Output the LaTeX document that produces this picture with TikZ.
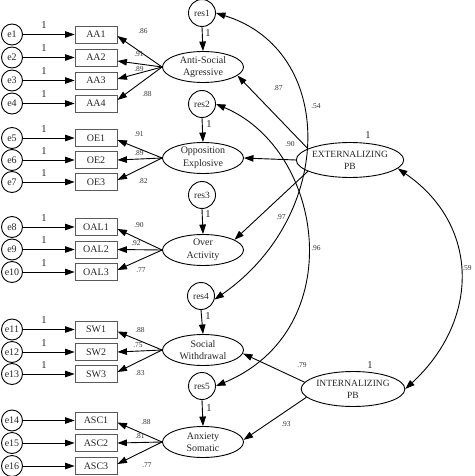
\documentclass[tikz,border=0pt]{standalone}
\usepackage{fontspec}
\setmainfont{Liberation Serif}
\usetikzlibrary{arrows.meta,shapes.geometric}
\begin{document}
\begin{tikzpicture}[x=1pt,y=-1pt,
  err/.style={circle,draw,line width=0.9pt,minimum size=21pt,inner sep=0pt,font=\fontsize{10}{11}\selectfont,text=black!85},
  resid/.style={circle,draw,line width=0.9pt,minimum size=27pt,inner sep=0pt,font=\fontsize{9.5}{11}\selectfont,text=black!85},
  obs/.style={rectangle,draw=black!65,line width=0.8pt,minimum width=42pt,minimum height=17pt,inner sep=0pt,font=\fontsize{10}{11}\selectfont,text=black!85},
  lat/.style={ellipse,draw,line width=0.9pt,minimum width=81pt,minimum height=31pt,inner sep=0pt,align=center,font=\fontsize{10}{12.5}\selectfont,text=black!85},
  biglat/.style={lat,minimum width=87pt,minimum height=35pt,font=\fontsize{9.5}{12}\selectfont},
  arr/.style={line width=0.9pt,-{Triangle[length=9.5pt,width=6.5pt]}},
  dbl/.style={line width=0.9pt,{Triangle[length=9.5pt,width=6.5pt]}-{Triangle[length=9.5pt,width=6.5pt]}},
  coef/.style={font=\fontsize{7.5}{8}\selectfont,text=black!80,inner sep=0pt},
  one/.style={font=\fontsize{10.5}{11}\selectfont,text=black!85,inner sep=0pt}
]
\useasboundingbox (0,0) rectangle (474,476);
\clip (0,0) rectangle (474,476);

% observed indicators and errors
\foreach \i/\lab/\yy in {1/AA1/34.5,2/AA2/57.5,3/AA3/80.5,4/AA4/103.5,
  5/OE1/138,6/OE2/160,7/OE3/182,
  8/OAL1/227,9/OAL2/249.5,10/OAL3/272,
  11/SW1/329.5,12/SW2/352,13/SW3/374,
  14/ASC1/420.5,15/ASC2/443,16/ASC3/466}{
  \node[err] (e\i) at (12,\yy) {e\i};
  \node[obs] (\lab) at (96,\yy) {\lab};
  \draw[arr] (e\i) -- (\lab);
}
\foreach \i/\yy in {1/34.5,2/57.5,3/80.5,4/103.5,5/138,6/160,7/182,8/227,9/249.5,10/272,11/329.5,12/352,13/374}{
  \node[one] (one\i) at (44,\yy-9) {1};
}

% latent factors and residuals
\node[resid] (res1) at (202,13) {res1};
\node[lat] (AS) at (203,67) {Anti-Social\\Agressive};
\node[resid] (res2) at (202,104) {res2};
\node[lat] (OE) at (203,158) {Opposition\\Explosive};
\node[resid] (res3) at (202,195) {res3};
\node[lat] (OA) at (203,250) {Over\\Activity};
\node[resid] (res4) at (201,296) {res4};
\node[lat] (SW) at (203,350) {Social\\Withdrawal};
\node[resid] (res5) at (202,386) {res5};
\node[lat] (ANX) at (203,442) {Anxiety\\Somatic};
\node[biglat] (EXT) at (350,160) {EXTERNALIZING\\PB};
\node[biglat] (INT) at (353,389) {INTERNALIZING\\PB};

\foreach \r/\l in {res1/AS,res2/OE,res3/OA,res4/SW,res5/ANX}{
  \draw[arr] (\r.south) -- (\l.north);
}
\node[one] (oneR1) at (208,33) {1};
\node[one] (oneR2) at (209,124) {1};
\node[one] (oneR3) at (208,214) {1};
\node[one] (oneR4) at (208,316) {1};
\node[one] (oneR5) at (209,408) {1};
\node[one] (oneEXT) at (368,135) {1};
\node[one] (oneINT) at (370,365) {1};

% loadings
\foreach \l/\s in {AA1/-1.5,AA2/-3.5,AA3/1.5,AA4/3.5}{\draw[arr] (AS.west) -- ([yshift=\s pt]\l.east);}
\foreach \l/\s in {OE1/-2,OE2/0,OE3/2}{\draw[arr] (OE.west) -- ([yshift=\s pt]\l.east);}
\foreach \l/\s in {OAL1/-2,OAL2/0,OAL3/2}{\draw[arr] (OA.west) -- ([yshift=\s pt]\l.east);}
\foreach \l/\s in {SW1/-2,SW2/0,SW3/2}{\draw[arr] (SW.west) -- ([yshift=\s pt]\l.east);}
\foreach \l/\s in {ASC1/-2,ASC2/0,ASC3/2}{\draw[arr] (ANX.west) -- ([yshift=\s pt]\l.east);}

\node[coef] at (143,31) {.86};
\node[coef] at (139,54) {.91};
\node[coef] at (139,69) {.89};
\node[coef] at (147,94) {.88};
\node[coef] at (139,134) {.91};
\node[coef] at (139,153) {.89};
\node[coef] at (143,181) {.82};
\node[coef] at (139,225) {.90};
\node[coef] at (136,243) {.92};
\node[coef] at (141,270) {.77};
\node[coef] at (140,330) {.88};
\node[coef] at (138,345) {.75};
\node[coef] at (140,373) {.83};
\node[coef] at (146,422) {.88};
\node[coef] at (140,436) {.81};
\node[coef] at (147,465) {.77};

% structural paths
\draw[arr] (EXT.165) -- (AS.-14);
\draw[arr] (EXT.west) -- (OE.east);
\draw[arr] (EXT.195) -- (OA.18);
\draw[arr] (INT.172) -- (SW.-5);
\draw[arr] (INT.190) -- (ANX.3);

% correlations
\draw[dbl] (res1.east) .. controls (336,50) and (336,215) .. (res4.-15);
\draw[dbl] (res2.east) .. controls (325,150) and (350,330) .. (res5.east);
\draw[dbl] (EXT.-10) .. controls (480,225) and (480,320) .. (INT.east);

\node[coef] at (278,88) {.87};
\node[coef] at (316,106) {.54};
\node[coef] at (290,144) {.90};
\node[coef] at (281,217) {.97};
\node[coef] at (316,248) {.96};
\node[coef] at (467,268) {.59};
\node[coef] at (302,365) {.79};
\node[coef] at (286,424) {.93};
\end{tikzpicture}
\end{document}
